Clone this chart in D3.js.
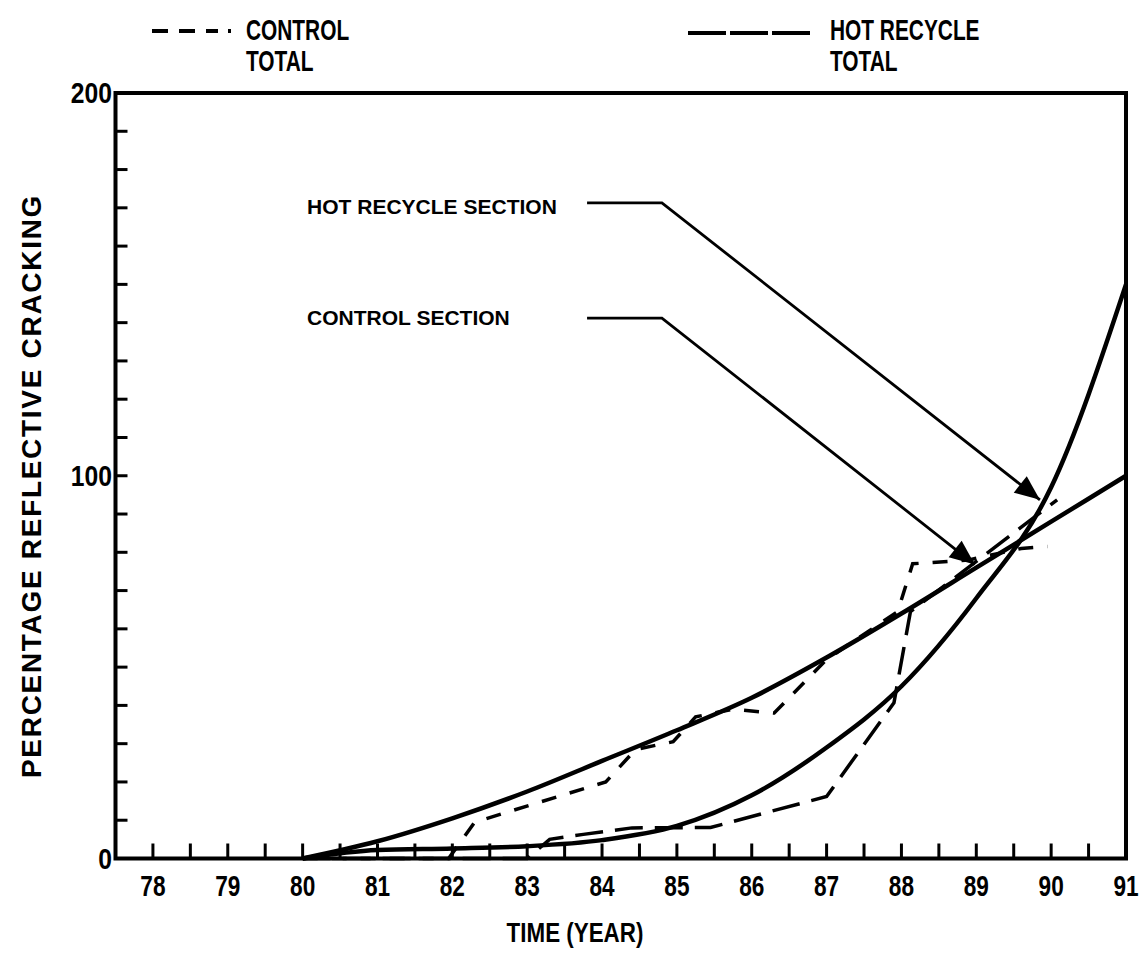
<!DOCTYPE html>
<html>
<head>
<meta charset="utf-8">
<script src="https://cdn.jsdelivr.net/npm/d3@7"></script>
<style>
  body { margin: 0; background: #fff; }
  text { font-family: "Liberation Sans", Arial, Helvetica, sans-serif; font-weight: bold; fill: #000; }
</style>
</head>
<body>
<script>
"use strict";

// smooth fitted curves, one value per year
const curveYears = [80, 81, 82, 83, 84, 85, 86, 87, 88, 89, 90, 91];
const controlSection = [0, 4.5, 10.5, 17.5, 25.5, 33.5, 42, 52.5, 64, 76, 88, 100];
const hotRecycleSection = [0, 2.2, 2.6, 3.2, 4.8, 8.5, 16.5, 29, 45, 68, 97, 150];

// measured totals (broken lines)
const controlTotalYears = [80, 81.95, 82.3, 84.05, 84.45, 84.95, 85.25, 85.75, 86.3, 87.0, 87.95, 88.15, 88.9, 89.6, 89.95];
const controlTotal = [0, 0, 9.5, 20, 28.5, 30.5, 37, 39, 38, 52, 64.5, 77, 78, 81, 81.5];
const hotTotalYears = [80, 83.0, 83.3, 83.75, 84.4, 85.45, 87.0, 87.9, 88.12, 90.08];
const hotTotal = [0, 0, 5, 6.3, 8, 8.1, 16.2, 40.7, 64.5, 93.7];

// axis ticks
const xTickLabels = ["78", "79", "80", "81", "82", "83", "84", "85", "86", "87", "88", "89", "90", "91"];
const yTickLabels = ["0", "100", "200"];

// call-out labels: text start, elbow, arrow tip (year, value)
const calloutNames = ["HOT RECYCLE SECTION", "CONTROL SECTION"];
const calloutText = [[80.06, 168.3], [80.06, 139.5]];
const calloutStart = [[83.8, 171.3], [83.8, 141.2]];
const calloutElbow = [[84.8, 171.3], [84.8, 141.2]];
const calloutTip = [[89.85, 93.7], [88.98, 76.8]];

const width = 1145, height = 959;

const svg = d3.select("body").append("svg")
    .attr("width", width)
    .attr("height", height);

svg.append("rect").attr("width", width).attr("height", height).attr("fill", "#fff");

const x = d3.scaleLinear().domain([77.5, 91]).range([115.5, 1126]);
const y = d3.scaleLinear().domain([0, 200]).range([858.5, 93]);

function condText(g, px, py, str, size, sx, anchor) {
    return g.append("text")
        .attr("transform", "translate(" + px + "," + py + ") scale(" + sx + ",1)")
        .attr("font-size", size)
        .attr("text-anchor", anchor || "start")
        .text(str);
}

// ticks, pointing into the plot
const xTicks = d3.range(78, 90.51, 0.5);
svg.selectAll("line.xtick")
    .data(xTicks)
    .enter()
    .append("line")
    .attr("class", "xtick")
    .attr("x1", d => x(d)).attr("x2", d => x(d))
    .attr("y1", y(0)).attr("y2", y(0) - 15)
    .attr("stroke", "#000")
    .attr("stroke-width", 3);

const yTicks = d3.range(10, 191, 10);
svg.selectAll("line.ytick")
    .data(yTicks)
    .enter()
    .append("line")
    .attr("class", "ytick")
    .attr("x1", x(77.5)).attr("x2", x(77.5) + 12)
    .attr("y1", d => y(d)).attr("y2", d => y(d))
    .attr("stroke", "#000")
    .attr("stroke-width", 3);

// frame
svg.append("rect")
    .attr("x", x(77.5)).attr("y", y(200))
    .attr("width", x(91) - x(77.5)).attr("height", y(0) - y(200))
    .attr("fill", "none")
    .attr("stroke", "#000")
    .attr("stroke-width", 4);

// tick labels
xTickLabels.forEach(function(t) {
    condText(svg, x(+t), 896, t, 29, 0.78, "middle");
});
yTickLabels.forEach(function(t) {
    condText(svg, 112, y(+t) + 10, t, 29, 0.85, "end");
});

// axis titles
condText(svg, 575, 942, "TIME (YEAR)", 28, 0.8, "middle");
svg.append("text")
    .attr("transform", "translate(41,486) rotate(-90)")
    .attr("font-size", 28)
    .attr("letter-spacing", 1.7)
    .attr("text-anchor", "middle")
    .text("PERCENTAGE REFLECTIVE CRACKING");

// data lines
const smooth = d3.line()
    .x(d => x(d[0]))
    .y(d => y(d[1]))
    .curve(d3.curveMonotoneX);
const broken = d3.line()
    .x(d => x(d[0]))
    .y(d => y(d[1]));

svg.append("path")
    .datum(d3.zip(curveYears, controlSection))
    .attr("d", smooth)
    .attr("fill", "none").attr("stroke", "#000").attr("stroke-width", 4.5);
svg.append("path")
    .datum(d3.zip(curveYears, hotRecycleSection))
    .attr("d", smooth)
    .attr("fill", "none").attr("stroke", "#000").attr("stroke-width", 4.5);
svg.append("path")
    .datum(d3.zip(controlTotalYears, controlTotal))
    .attr("d", broken)
    .attr("fill", "none").attr("stroke", "#000").attr("stroke-width", 3.5)
    .attr("stroke-dasharray", "15,14");
svg.append("path")
    .datum(d3.zip(hotTotalYears, hotTotal))
    .attr("d", broken)
    .attr("fill", "none").attr("stroke", "#000").attr("stroke-width", 3.5)
    .attr("stroke-dasharray", "28,12");

// call-outs with arrows
for (let i = 0; i < calloutNames.length; i++) {
    svg.append("text")
        .attr("x", x(calloutText[i][0]))
        .attr("y", y(calloutText[i][1]))
        .attr("font-size", 21)
        .text(calloutNames[i]);

    var pts = [calloutStart[i], calloutElbow[i], calloutTip[i]].map(p => [x(p[0]), y(p[1])]);
    svg.append("path")
        .attr("d", d3.line()(pts))
        .attr("fill", "none").attr("stroke", "#000").attr("stroke-width", 2.8);

    var tip = pts[2], from = pts[1];
    var ang = Math.atan2(tip[1] - from[1], tip[0] - from[0]);
    var len = 25, hw = 10.5;
    var bx = tip[0] - len * Math.cos(ang), by = tip[1] - len * Math.sin(ang);
    var head = [
        tip,
        [bx - hw * Math.sin(ang), by + hw * Math.cos(ang)],
        [bx + hw * Math.sin(ang), by - hw * Math.cos(ang)]
    ];
    svg.append("path")
        .attr("d", d3.line()(head) + "Z")
        .attr("fill", "#000");
}

// legend
svg.append("line")
    .attr("x1", 152).attr("x2", 231).attr("y1", 31).attr("y2", 31)
    .attr("stroke", "#000").attr("stroke-width", 4)
    .attr("stroke-dasharray", "16,11,16,11,12,10,3,60");
condText(svg, 246, 40, "CONTROL", 29, 0.72);
condText(svg, 246, 71, "TOTAL", 29, 0.72);

svg.append("line")
    .attr("x1", 688).attr("x2", 810).attr("y1", 33).attr("y2", 33)
    .attr("stroke", "#000").attr("stroke-width", 4)
    .attr("stroke-dasharray", "38,4");
condText(svg, 830, 40, "HOT RECYCLE", 29, 0.72);
condText(svg, 830, 71, "TOTAL", 29, 0.72);
</script>
</body>
</html>
